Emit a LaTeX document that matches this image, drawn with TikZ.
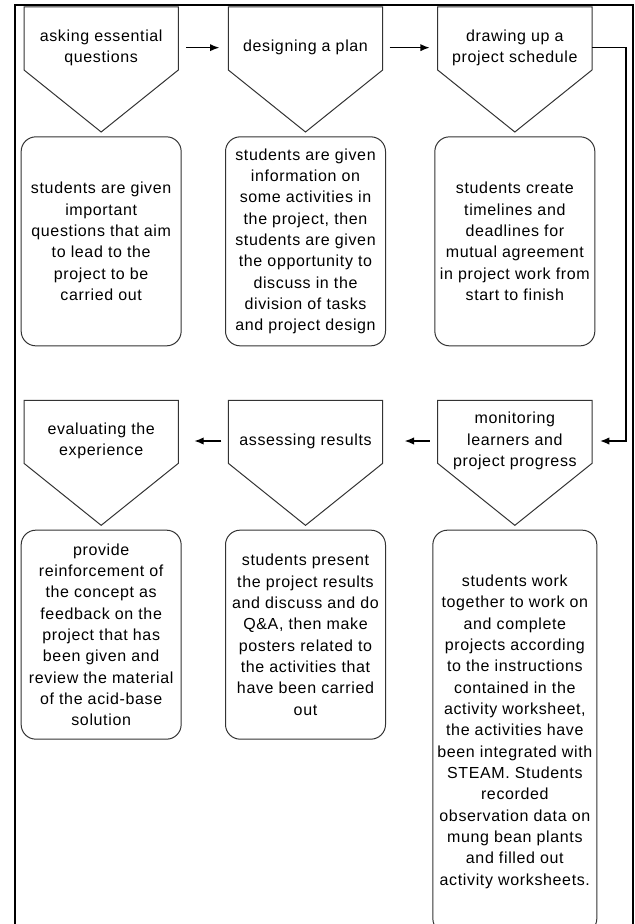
\documentclass[tikz,border=0pt]{standalone}
\usepackage{fontspec}
\setmainfont{Liberation Sans}[LetterSpace=4]
\usetikzlibrary{positioning,arrows.meta}

\begin{document}
\begin{tikzpicture}[>={Latex[length=7pt,width=5.5pt]}, line width=1pt,
  stage/.style={rectangle, minimum width=114.75pt, minimum height=60pt, inner sep=0pt, align=center, font=\fontsize{12}{16}\selectfont},
  note/.style={rectangle, draw=black!80, line width=0.75pt, rounded corners=11pt, minimum width=120pt, minimum height=156.75pt, inner sep=1pt, align=center, font=\fontsize{12}{16}\selectfont}]
\useasboundingbox (0,0) rectangle (476.25pt,-693pt);
\clip (0,0) rectangle (476.25pt,-693pt);
% Frame
\draw[line width=1.5pt] (11.25pt,-3.75pt) rectangle (474.75pt,-710pt);

% Top row
\node (ask) [stage, anchor=north west] at (18pt,-5.25pt) {asking essential\\questions};
\node (plan) [stage, right=37.5pt of ask] {designing a plan};
\node (sched) [stage, right=41.25pt of plan] {drawing up a\\project schedule};

\node (askbox) [note, below=36pt of ask] {students are given\\important\\questions that aim\\to lead to the\\project to be\\carried out};
\node (planbox) [note, below=36pt of plan] {students are given\\information on\\some activities in\\the project, then\\students are given\\the opportunity to\\discuss in the\\division of tasks\\and project design};
\node (schedbox) [note, below=36pt of sched] {students create\\timelines and\\deadlines for\\mutual agreement\\in project work from\\start to finish};

% Bottom row
\node (eval) [stage, below=40.5pt of askbox] {evaluating the\\experience};
\node (assess) [stage, below=40.5pt of planbox] {assessing results};
\node (monit) [stage, below=40.5pt of schedbox] {monitoring\\learners and\\project progress};

\node (evalbox) [note, below=36pt of eval] {provide\\reinforcement of\\the concept as\\feedback on the\\project that has\\been given and\\review the material\\of the acid-base\\solution};
\node (assessbox) [note, below=36pt of assess] {students present\\the project results\\and discuss and do\\Q\&A, then make\\posters related to\\the activities that\\have been carried\\out};
\node (monitbox) [note, below=36pt of monit, minimum width=123pt, minimum height=302.25pt] {students work\\together to work on\\and complete\\projects according\\to the instructions\\contained in the\\activity worksheet,\\the activities have\\been integrated with\\STEAM. Students\\recorded\\observation data on\\mung bean plants\\and filled out\\activity worksheets.};

% Pentagon outlines
\foreach \n in {ask,plan,sched,eval,assess,monit}
  \draw[black!80, line width=0.75pt] (\n.north west) -- (\n.north east) -- ([yshift=-47.25pt]\n.north east) -- ([yshift=-93.75pt]\n.north) -- ([yshift=-47.25pt]\n.north west) -- cycle;

\draw [->, shorten <=6pt, shorten >=6.75pt] (ask) -- (plan);
\draw [->, shorten <=5.25pt, shorten >=6pt] (plan) -- (sched);
\draw [->, shorten >=6pt] (sched.east) -- ++(25.5pt,0) |- (monit.east);
\draw [->, shorten <=6pt, shorten >=16.5pt] (monit) -- (assess);
\draw [->, shorten <=5.25pt, shorten >=12pt] (assess) -- (eval);
\end{tikzpicture}
\end{document}
